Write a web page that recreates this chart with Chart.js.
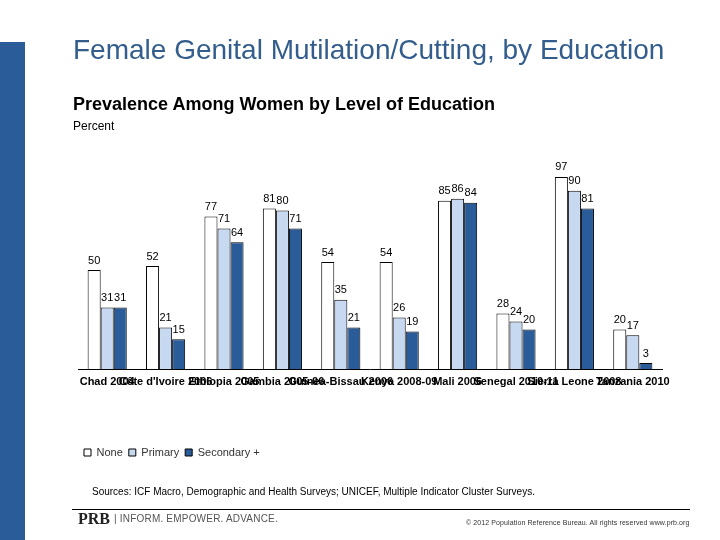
<!DOCTYPE html>
<html>
<head>
<meta charset="utf-8">
<script src="https://cdn.jsdelivr.net/npm/chart.js@4/dist/chart.umd.min.js"></script>
<style>
  html, body { margin:0; padding:0; background:#fff; }
  #wrap { position:relative; width:720px; height:540px; overflow:hidden; font-family:"Liberation Sans", Arial, sans-serif; }
  #c { position:absolute; left:0; top:0; }
  .t { position:absolute; white-space:nowrap; line-height:1; }
  #sidebar { position:absolute; left:0; top:42px; width:25px; height:498px; background:#2a5c9a; }
</style>
</head>
<body>
<div id="wrap">
  <div id="sidebar"></div>
  <canvas id="c" width="720" height="540"></canvas>
  <div class="t" style="left:73px;top:36px;font-size:28px;color:#335d8c;">Female Genital Mutilation/Cutting, by Education</div>
  <div class="t" style="left:73px;top:95px;font-size:18px;font-weight:bold;color:#000;">Prevalence Among Women by Level of Education</div>
  <div class="t" style="left:73px;top:120px;font-size:12px;color:#000;">Percent</div>
  <div class="t" style="left:92px;top:487px;font-size:10px;color:#000;">Sources: ICF Macro, Demographic and Health Surveys; UNICEF, Multiple Indicator Cluster Surveys.</div>
  <div style="position:absolute;left:72px;top:509px;width:618px;height:1px;background:#000;"></div>
  <div class="t" style="left:78px;top:511px;font-size:16px;font-weight:bold;font-family:'Liberation Serif',serif;color:#222;">PRB</div>
  <div class="t" style="left:114px;top:514px;font-size:10px;color:#555;letter-spacing:0.2px;">| INFORM. EMPOWER. ADVANCE.</div>
  <div class="t" style="left:466px;top:519px;font-size:7px;letter-spacing:0.1px;color:#333;">© 2012 Population Reference Bureau. All rights reserved www.prb.org</div>
</div>
<script>
const categories = ["Chad 2004", "Côte d'Ivoire 2006", "Ethiopia 2005", "Gambia 2005-06", "Guinea-Bissau 2006", "Kenya 2008-09", "Mali 2006", "Senegal 2010-11", "Sierra Leone 2008", "Tanzania 2010"];
const seriesNames = ["None", "Primary", "Secondary +"];
const noneValues = [50, 52, 77, 81, 54, 54, 85, 28, 97, 20];
const primaryValues = [31, 21, 71, 80, 35, 26, 86, 24, 90, 17];
const secondaryValues = [31, 15, 64, 71, 21, 19, 84, 20, 81, 3];

const labelPlugin = {
  id: 'valueLabels',
  afterDatasetsDraw(chart) {
    const ctx = chart.ctx;
    ctx.save();
    ctx.font = '11px "Liberation Sans", Arial, sans-serif';
    ctx.fillStyle = '#000';
    ctx.textAlign = 'center';
    ctx.textBaseline = 'bottom';
    chart.data.datasets.forEach((ds, i) => {
      const meta = chart.getDatasetMeta(i);
      meta.data.forEach((el, j) => {
        ctx.fillText(String(ds.data[j]), el.x, el.y - 4);
      });
    });
    ctx.restore();
  }
};

new Chart(document.getElementById('c'), {
  type: 'bar',
  data: {
    labels: categories,
    datasets: [
      { label: seriesNames[0], data: noneValues, backgroundColor: '#ffffff', borderColor: '#000000', borderWidth: 1 },
      { label: seriesNames[1], data: primaryValues, backgroundColor: '#c6d9f1', borderColor: '#000000', borderWidth: 1 },
      { label: seriesNames[2], data: secondaryValues, backgroundColor: '#2a5c9a', borderColor: '#000000', borderWidth: 1 }
    ]
  },
  options: {
    responsive: false,
    devicePixelRatio: 1,
    animation: false,
    layout: { padding: { left: 78, right: 58, top: 171, bottom: 72 } },
    datasets: { bar: { categoryPercentage: 0.67, barPercentage: 1.0 } },
    scales: {
      y: { display: false, min: 0, max: 100 },
      x: {
        grid: { display: false, drawTicks: false },
        border: { display: true, color: '#000', width: 1 },
        ticks: {
          autoSkip: false, maxRotation: 0, minRotation: 0, padding: 6,
          color: '#000',
          font: { family: '"Liberation Sans", Arial, sans-serif', size: 11, weight: 'bold' }
        },
        afterFit(scale) { scale.height = 72; }
      }
    },
    plugins: {
      legend: {
        position: 'bottom',
        align: 'start',
        labels: {
          boxWidth: 7, boxHeight: 7, padding: 6,
          color: '#333',
          font: { family: '"Liberation Sans", Arial, sans-serif', size: 11 }
        }
      },
      tooltip: { enabled: false }
    }
  },
  plugins: [labelPlugin]
});
</script>
</body>
</html>
